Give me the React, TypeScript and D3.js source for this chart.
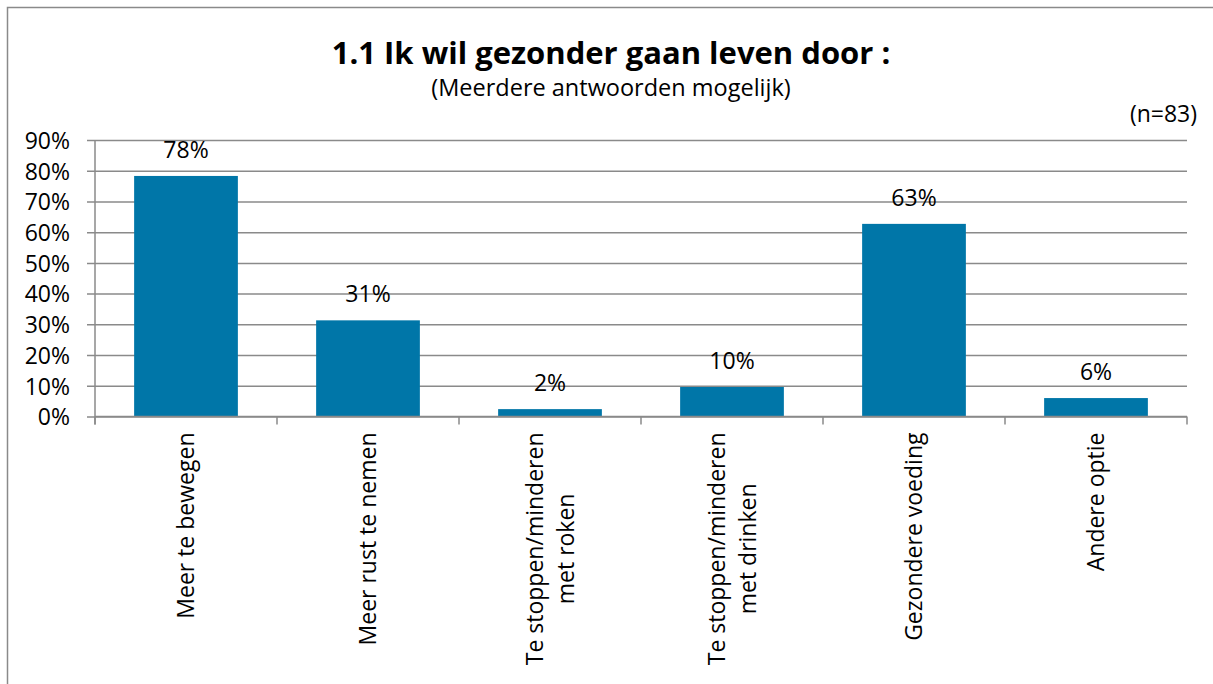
import React, { useEffect, useRef } from "react";
import * as d3 from "d3";

// data (n=83)
const categories = [
  ["Meer te bewegen"],
  ["Meer rust te nemen"],
  ["Te stoppen/minderen", "met roken"],
  ["Te stoppen/minderen", "met drinken"],
  ["Gezondere voeding"],
  ["Andere optie"],
];
const values = [78.3, 31.3, 2.4, 9.6, 62.7, 6.0];
const yTicks = [0, 10, 20, 30, 40, 50, 60, 70, 80, 90];

const title = "1.1 Ik wil gezonder gaan leven door :";
const subtitle = "(Meerdere antwoorden mogelijk)";
const nLabel = "(n=83)";

const W = 1213;
const H = 684;
const FONT = "'Open Sans', 'Noto Sans', sans-serif";
const BAR = "#0076a8";
const GREY = "#8a8a8a";
const FS = 23;

const App = () => {
  const ref = useRef<SVGSVGElement>(null);

  useEffect(() => {
    const svg = d3.select(ref.current);
    svg.selectAll("*").remove();

    const left = 95, right = 1187, top = 140, bottom = 416.5;

    const x = d3.scaleBand<number>()
      .domain(d3.range(categories.length))
      .range([left, right])
      .paddingInner(0.43)
      .paddingOuter(0.215);
    const y = d3.scaleLinear().domain([0, 90]).range([bottom, top]);

    // outer frame (runs off right / bottom)
    svg.append("rect")
      .attr("x", 7.5).attr("y", 7.5)
      .attr("width", W + 20).attr("height", H + 20)
      .attr("fill", "white")
      .attr("stroke", GREY).attr("stroke-width", 1.5);

    // title
    svg.append("text")
      .attr("x", 611).attr("y", 64)
      .attr("text-anchor", "middle")
      .attr("font-family", FONT).attr("font-weight", "bold").attr("font-size", 31)
      .attr("fill", "#000")
      .text(title);
    svg.append("text")
      .attr("x", 611).attr("y", 96)
      .attr("text-anchor", "middle")
      .attr("font-family", FONT).attr("font-size", 23.5)
      .attr("fill", "#000")
      .text(subtitle);
    svg.append("text")
      .attr("x", 1197).attr("y", 122)
      .attr("text-anchor", "end")
      .attr("font-family", FONT).attr("font-size", 23)
      .attr("fill", "#000")
      .text(nLabel);

    // y axis with gridlines
    const yAxis = d3.axisLeft(y)
      .tickValues(yTicks)
      .tickSize(-(right - left))
      .tickPadding(25)
      .tickFormat((d) => `${d}%`);
    const gy = svg.append("g").attr("transform", `translate(${left},0)`).call(yAxis);
    gy.select(".domain").remove();
    gy.selectAll(".tick line")
      .attr("x1", -8)
      .attr("stroke", GREY).attr("stroke-width", 1.5);
    gy.selectAll(".tick text")
      .attr("font-family", FONT).attr("font-size", 23)
      .attr("fill", "#000")
      .attr("dy", "0.36em");

    svg.append("line")
      .attr("x1", left).attr("x2", left)
      .attr("y1", top).attr("y2", bottom + 8)
      .attr("stroke", GREY).attr("stroke-width", 1.5);

    // bars
    svg.append("g").selectAll("rect")
      .data(values)
      .join("rect")
      .attr("x", (_, i) => x(i)!)
      .attr("y", (d) => y(d))
      .attr("width", x.bandwidth())
      .attr("height", (d) => y(0) - y(d))
      .attr("fill", BAR);

    // value labels
    svg.append("g").selectAll("text")
      .data(values)
      .join("text")
      .attr("x", (_, i) => x(i)! + x.bandwidth() / 2)
      .attr("y", (d) => y(d) - 18)
      .attr("text-anchor", "middle")
      .attr("font-family", FONT).attr("font-size", 23)
      .attr("fill", "#000")
      .text((d) => `${Math.round(d)}%`);

    // x axis line + category ticks
    svg.append("line")
      .attr("x1", left).attr("x2", right)
      .attr("y1", bottom).attr("y2", bottom)
      .attr("stroke", GREY).attr("stroke-width", 1.5);
    const step = x.step();
    svg.append("g").selectAll("line")
      .data(d3.range(categories.length + 1))
      .join("line")
      .attr("x1", (i) => left + i * step).attr("x2", (i) => left + i * step)
      .attr("y1", bottom).attr("y2", bottom + 8)
      .attr("stroke", GREY).attr("stroke-width", 1.5);

    // rotated category labels
    const lineH = 31;
    const cg = svg.append("g").selectAll("g")
      .data(categories)
      .join("g")
      .attr("transform", (_, i) => `translate(${x(i)! + x.bandwidth() / 2},${bottom + 16}) rotate(-90)`);
    cg.each(function (lines) {
      const g = d3.select(this);
      const n = lines.length;
      lines.forEach((t, k) => {
        g.append("text")
          .attr("x", 0)
          .attr("y", (k - (n - 1) / 2) * lineH)
          .attr("dy", "0.36em")
          .attr("text-anchor", n > 1 ? "middle" : "end")
          .attr("font-family", FONT).attr("font-size", FS)
          .attr("fill", "#000")
          .text(t);
      });
    });
    // two-line labels: lines centred on each other, block right-aligned at the axis
    cg.filter((d) => d.length > 1).each(function () {
      const g = d3.select(this);
      const widths = g.selectAll<SVGTextElement, unknown>("text").nodes().map((n) => n.getComputedTextLength());
      const maxW = d3.max(widths) || 0;
      g.selectAll("text").attr("x", -maxW / 2);
    });
  }, []);

  return (
    <svg
      ref={ref}
      width={W}
      height={H}
      style={{ position: "absolute", left: 0, top: 0, background: "white" }}
    />
  );
};

export default App;
